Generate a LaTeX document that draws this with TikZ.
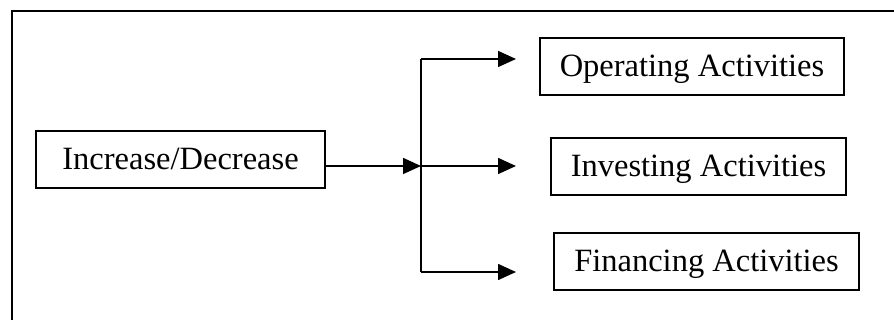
\documentclass[tikz,border=0pt]{standalone}
\usepackage{fontspec}
\setmainfont{Liberation Serif}
\usetikzlibrary{arrows.meta}
\begin{document}
\begin{tikzpicture}[x=0.02cm, y=-0.02cm,
    box/.style={draw, line width=1.1pt, inner sep=0, minimum height=1.14cm, text height=0.56cm, text depth=0.14cm, font=\fontsize{18.5}{21}\selectfont},
    flow/.style={line width=0.9pt, -{Triangle[length=0.36cm, width=0.32cm]}}]

      \useasboundingbox (0, 0) rectangle (894, 320);
      \draw[line width=1.1pt] (12, 320) -- (12, 11) -- (894, 11);

      \node[box, minimum width=5.78cm] (inc) at (180.5, 159.5) {Increase/Decrease\hspace{0.35cm}};
      \node[box, minimum width=6.08cm] (opr) at (692, 66.5) {Operating Activities};
      \node[box, minimum width=5.9cm] (inv) at (698.5, 166.5) {Investing Activities};
      \node[box, minimum width=6.1cm] (fin) at (706.5, 261.5) {Financing Activities};

      \coordinate (hub) at (421, 166);
      \coordinate (top) at (421, 59);
      \coordinate (bot) at (421, 272);
      \draw[flow] (inc.east |- hub) -- (hub);
      \draw[line width=0.9pt] (top) -- (bot);
      \draw[flow] (top) -- ++(95, 0);
      \draw[flow] (hub) -- ++(95, 0);
      \draw[flow] (bot) -- ++(95, 0);
    \end{tikzpicture}
\end{document}
